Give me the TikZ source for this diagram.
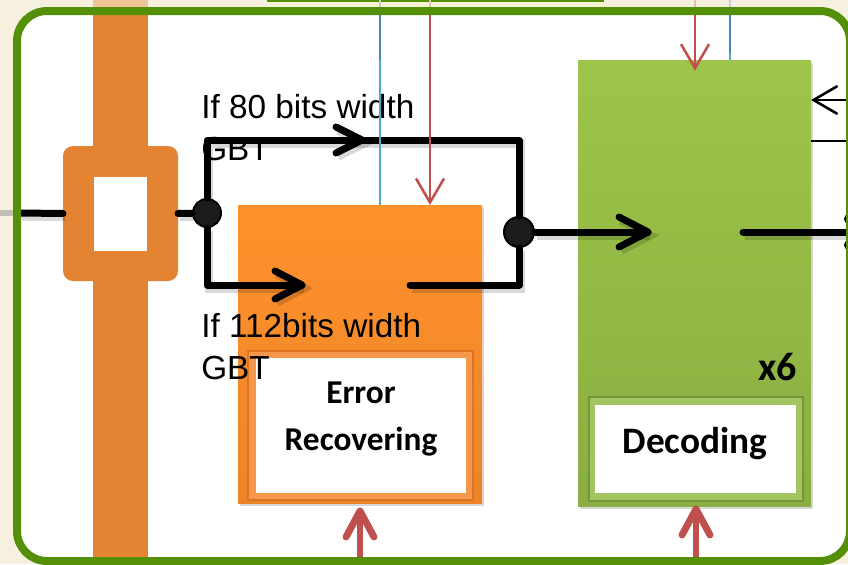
\documentclass[tikz,border=0pt]{standalone}
\usepackage{fontspec}
\setmainfont{Liberation Sans}
\newfontfamily\cbfont{Carlito}
\usetikzlibrary{shadows,calc,arrows.meta}
\definecolor{bg}{RGB}{246,240,222}
\definecolor{paleyel}{RGB}{246,243,210}
\definecolor{bordergreen}{RGB}{84,143,8}
\definecolor{barorange}{RGB}{228,131,50}
\definecolor{erTop}{RGB}{255,146,44}
\definecolor{erBot}{RGB}{238,132,40}
\definecolor{erFrame}{RGB}{246,152,74}
\definecolor{erEdge}{RGB}{220,116,36}
\definecolor{decTop}{RGB}{158,197,73}
\definecolor{decBot}{RGB}{138,174,65}
\definecolor{decFrame}{RGB}{163,197,97}
\definecolor{decEdge}{RGB}{118,148,58}
\definecolor{redline}{RGB}{192,80,77}
\definecolor{blueline}{RGB}{79,129,189}
\definecolor{cyanline}{RGB}{75,172,198}
\definecolor{dotgray}{RGB}{28,28,28}
\tikzset{
  blk/.style={inner sep=0pt, outer sep=0pt, draw=none},
  wire/.style={line width=5.25pt, black, line cap=round, line join=round,
    preaction={draw=black, opacity=0.15, line width=6.5pt, transform canvas={xshift=1.5pt,yshift=-2.5pt}}},
  thinln/.style={line width=1.9pt},
  redthick/.style={line width=5.2pt, redline, line cap=round, line join=round},
  jdot/.style={circle, fill=dotgray, draw=black, line width=1.5pt, inner sep=0pt},
  lbl/.style={font=\fontsize{25}{31.5}\selectfont, align=left, inner sep=0pt, anchor=north west},
  blab/.style={font=\cbfont\bfseries\fontsize{25}{30}\selectfont, inner sep=0pt, anchor=base},
  bshadow/.style={drop shadow={opacity=0.3, shadow xshift=1.5pt, shadow yshift=-2pt}},
  openhead/.style={-{Straight Barb[length=18pt,width=21pt]}},
}
\begin{document}
\begin{tikzpicture}[x=0.75pt,y=-0.75pt]
\useasboundingbox (0,0) rectangle (848,564);
\fill[bg] (0,0) rectangle (848,564);
% faint things above the frame
\fill[paleyel] (267,0) rectangle (604,9);
\draw[bordergreen, line width=1.5pt] (267,0.8) -- (604,0.8);
\fill[barorange!40!bg] (93,0) rectangle (148,12);
\draw[thinln, blueline!30!bg] (380,0) -- (380,12);
\draw[thinln, redline!30!bg] (430,0) -- (430,12);
\draw[thinln, redline!30!bg] (695,0) -- (695,12);
\draw[thinln, blueline!30!bg] (730,0) -- (730,12);
\draw[line width=4.5pt, gray!45!bg] (0,213) -- (18,213);
% white panel
\fill[white, rounded corners=22.5pt] (17,11) rectangle (850,561);
% orange bar and multiplexer
\fill[barorange] (93,12) rectangle (148,560);
\node[blk, fill=barorange, rounded corners=7.5pt, minimum width=86.25pt, minimum height=101.25pt] (mux) at (120.5,213.5) {};
\node[blk, fill=white, minimum width=39.75pt, minimum height=55.5pt] (muxin) at (120.5,214) {};
% blocks
\node[blk, bshadow, top color=erTop, bottom color=erBot, minimum width=183pt, minimum height=223.5pt] (er) at (360,354) {};
\node[blk, fill=erFrame, draw=erEdge, line width=0.8pt, minimum width=168.75pt, minimum height=111.75pt] (erframe) at (360.5,425.5) {};
\node[blk, fill=white, minimum width=157.5pt, minimum height=101.25pt] (erwhite) at (361,425.5) {};
\node[blk, bshadow, top color=decTop, bottom color=decBot, minimum width=174.75pt, minimum height=334.5pt] (dec) at (694.5,283) {};
\node[blk, fill=decFrame, draw=decEdge, line width=0.8pt, minimum width=160.5pt, minimum height=78pt] (decframe) at (696,449) {};
\node[blk, fill=white, minimum width=150.75pt, minimum height=66pt] (decwhite) at (695.5,449) {};
% block labels
\node[blab] (t1) at (361,403) {Error};
\node[blab] (t2) at (361,450) {Recovering};
\node[blab, font=\cbfont\bfseries\fontsize{28}{32}\selectfont] (t3) at (695,453) {Decoding};
\node[blab, anchor=base east, font=\cbfont\bfseries\fontsize{30}{34}\selectfont] (t4) at (797,380) {x6};
% junctions
\coordinate (in) at (20,213);
\coordinate (tl) at (207,140);
\coordinate (tr) at (519,140);
\coordinate (bl) at (207,285);
\coordinate (br) at (519,285);
\coordinate (c1) at (302,285);
\coordinate (c2) at (410,285);
\coordinate (c3) at (648,232);
\coordinate (c4) at (743,232);
\coordinate (outR) at (852,232);
\coordinate (a1) at (362,140);
\node[jdot, minimum size=21pt] (j1) at (207,213) {};
\node[jdot, minimum size=22.5pt] (j2) at (519,232) {};
% black wires
\draw[wire] (in) -- (mux.west);
\draw[wire] (mux.east) -- (j1);
\draw[wire] (j1) -- (tl) -- (tr) -- (j2);
\draw[wire] (j1) -- (bl) -- (c1);
\draw[wire] (c2) -- (br) -- (j2);
\draw[wire] (j2) -- (c3);
\draw[wire] (c4) -- (outR);
% chevrons
\draw[wire] ($(a1)+(-26,-13)$) -- (a1) -- ($(a1)+(-26,13)$);
\draw[wire] ($(c1)+(-27,-14)$) -- (c1) -- ($(c1)+(-27,14)$);
\draw[wire] ($(c3)+(-29,-15)$) -- (c3) -- ($(c3)+(-29,15)$);
\fill (849,219) circle (3.8pt);
\fill (849,245) circle (3.8pt);
% texts
\node[lbl] (l1) at (201,94) {If 80 bits width\\GBT};
\node[lbl] (l2) at (201,313) {If 112bits width\\GBT};
% thin signal lines
\coordinate (b1) at (380,11);
\coordinate (b1m) at (380,60);
\coordinate (r1) at (430,11);
\coordinate (r2) at (695,11);
\coordinate (b2) at (730,11);
\coordinate (b2m) at (730,53);
\draw[thinln, blueline] (b1) -- (b1m);
\draw[thinln, cyanline] (b1m) -- (b1m |- er.north);
\draw[thinln, redline, openhead] (r1) -- (r1 |- er.north);
\draw[thinln, redline, openhead] (r2) -- ([yshift=-8pt]r2 |- dec.north);
\draw[thinln, blueline] (b2) -- (b2m);
\draw[thinln, cyanline] (b2m) -- (b2m |- dec.north);
\coordinate (rin) at (852,100);
\coordinate (rin2) at (852,141);
\draw[thinln, black, openhead] (rin) -- (rin -| dec.east);
\draw[thinln, black] (rin2) -- (rin2 -| dec.east);
% red supply arrows
\coordinate (rs1) at (360,562);
\coordinate (rt1) at (360,511);
\coordinate (rs2) at (696,562);
\coordinate (rt2) at (696,509);
\draw[redthick] (rs1) -- (rt1);
\draw[redthick] ($(rt1)+(-14,26)$) -- (rt1) -- ($(rt1)+(14,26)$);
\draw[redthick] (rs2) -- (rt2);
\draw[redthick] ($(rt2)+(-14,26)$) -- (rt2) -- ($(rt2)+(14,26)$);
% frame
\draw[bordergreen, line width=6pt, rounded corners=22.5pt] (17,11) rectangle (850,561);
\end{tikzpicture}
\end{document}
